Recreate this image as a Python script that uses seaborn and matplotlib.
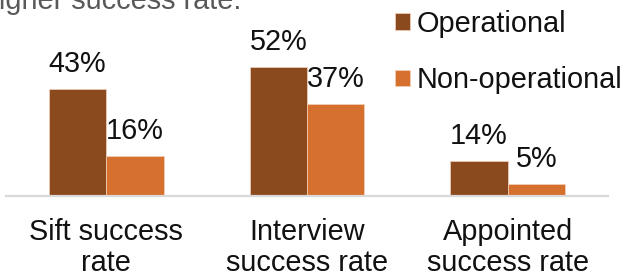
import matplotlib
matplotlib.use("Agg")
import matplotlib.pyplot as plt
import seaborn as sns
import pandas as pd

categories = ["Sift success\nrate", "Interview\nsuccess rate", "Appointed\nsuccess rate"]
groups = ["Operational", "Non-operational"]
operational = [43, 52, 14]
non_operational = [16, 37, 5]
colors = ["#8B4A1E", "#D5702E"]
title_fragment = "higher success rate."

df = pd.DataFrame({
    "category": categories * 2,
    "group": [groups[0]] * 3 + [groups[1]] * 3,
    "value": operational + non_operational,
})

sns.set_theme(style="white")
plt.rcParams["font.family"] = ["Liberation Sans", "DejaVu Sans"]

FS = 20.8
W, H = 627, 277
fig = plt.figure(figsize=(W / 100, H / 100), dpi=100)
ax = fig.add_axes([6 / W, 81 / H, 602 / W, 149.4 / H])

sns.barplot(data=df, x="category", y="value", hue="group", hue_order=groups,
            palette=colors, saturation=1, width=0.572, gap=0, ax=ax,
            edgecolor="#F2D2BC", linewidth=0.5, legend=True)

ax.set_xlim(-0.5, 2.5)
ax.set_ylim(0, 60)
ax.set_xlabel("")
ax.set_ylabel("")
ax.set_yticks([])
for s in ["top", "left", "right"]:
    ax.spines[s].set_visible(False)
ax.spines["bottom"].set_color("#D9D9D9")
ax.spines["bottom"].set_linewidth(1.6)

ax.tick_params(axis="x", length=0, pad=16.0, labelsize=FS, labelcolor="#111111")
for lbl in ax.get_xticklabels():
    lbl.set_linespacing(1.12)

for cont in ax.containers:
    for bar in cont:
        h = bar.get_height()
        ax.annotate(f"{h:.0f}%", (bar.get_x() + bar.get_width() / 2, h),
                    xytext=(0, 12.2), textcoords="offset points",
                    ha="center", va="baseline", fontsize=FS, color="#111111",
                    annotation_clip=False)

handles, labels = ax.get_legend_handles_labels()
ax.get_legend().remove()
fig.legend(handles, labels, loc="upper left",
           bbox_to_anchor=(395 / W, 1 - 10 / H), bbox_transform=fig.transFigure,
           frameon=False, fontsize=FS, handlelength=0.52, handleheight=0.52,
           handletextpad=0.24, labelspacing=0.98, borderpad=0, borderaxespad=0,
           labelcolor="#111111")

fig.text(241 / W, 1 - 9 / H, title_fragment, ha="right", va="baseline",
         fontsize=FS, color="#595959")

fig.savefig("out.png", dpi=100)
